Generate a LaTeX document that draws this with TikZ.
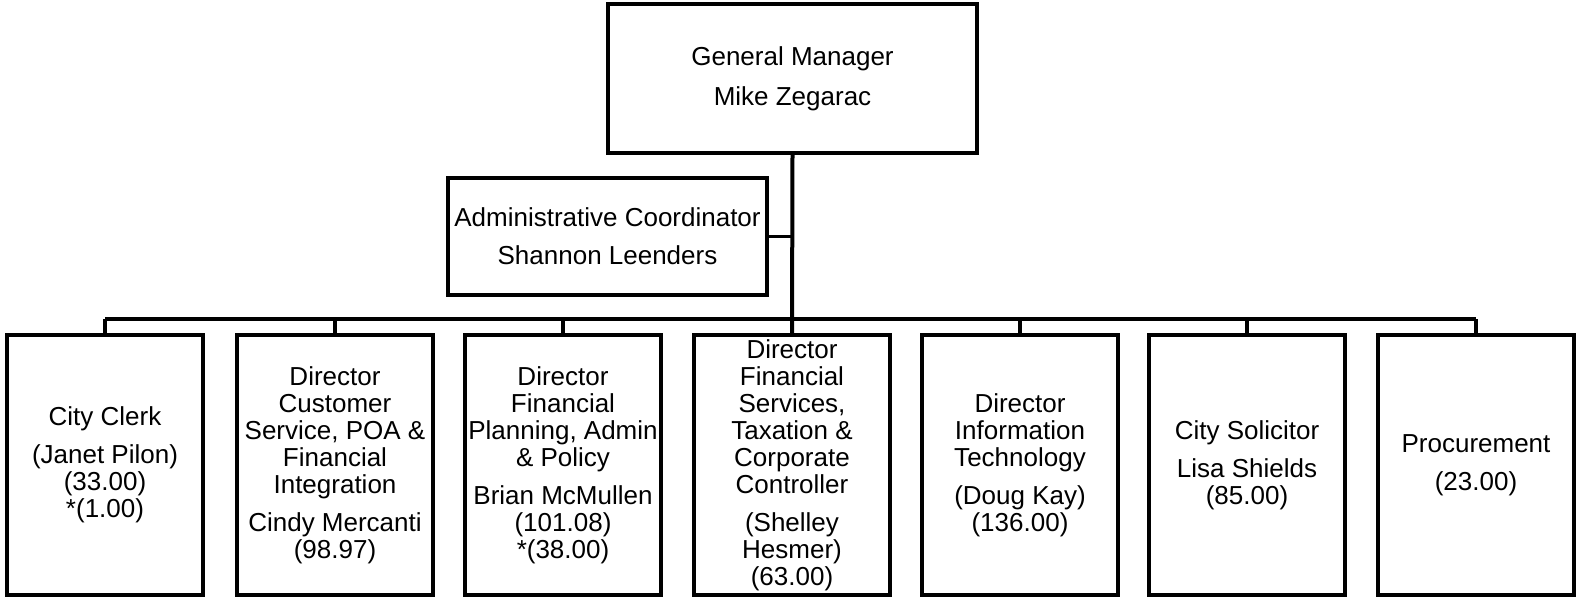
\documentclass[tikz,border=0pt]{standalone}
\usepackage{fontspec}
\setmainfont{Liberation Sans}
\usetikzlibrary{positioning,calc}
\definecolor{boxline}{HTML}{000000}

\begin{document}
\begin{tikzpicture}[x=1pt,y=-1pt,
    unitbox/.style={draw=boxline,line width=3.5pt,align=center,inner sep=0pt,
      font=\fontsize{26}{27}\selectfont},
    deptbox/.style={unitbox,minimum width=196pt,minimum height=260pt},
    orgline/.style={draw=boxline,line width=3.5pt}]
  \useasboundingbox (0,0) rectangle (1577,598);
  % top level
  \node[unitbox,minimum width=369pt,minimum height=149pt] (gm) at (792.5,78.5)
    {General Manager\\[13pt]Mike Zegarac};
  \node[unitbox,minimum width=319pt,minimum height=117pt] (adm) at (607.5,236.5)
    {Administrative Coordinator\\[11pt]Shannon Leenders};
  % departments
  \node[deptbox] (d1) at (105,465)
    {City Clerk\\[11pt](Janet Pilon)\\(33.00)\\*(1.00)};
  \node[deptbox] (d2) at (335,465)
    {Director\\Customer\\Service, POA \&\\Financial\\Integration\\[11pt]Cindy Mercanti\\(98.97)};
  \node[deptbox] (d3) at (563,465)
    {Director\\Financial\\Planning, Admin\\\& Policy\\[11pt]Brian McMullen\\(101.08)\\*(38.00)};
  \node[deptbox] (d4) at (792,465)
    {Director\\Financial\\Services,\\Taxation \&\\Corporate\\Controller\\[11pt](Shelley\\Hesmer)\\(63.00)};
  \node[deptbox] (d5) at (1020,465)
    {Director\\Information\\Technology\\[11pt](Doug Kay)\\(136.00)};
  \node[deptbox] (d6) at (1247,465)
    {City Solicitor\\[11pt]Lisa Shields\\(85.00)};
  \node[deptbox] (d7) at (1476,465)
    {Procurement\\[11pt](23.00)};
  % connectors
  \coordinate (bar) at (0,319);
  \draw[orgline,line width=4pt] (gm.south) -- (d4.north);
  \draw[orgline] (adm.east) -- (adm.east -| gm.south);
  \draw[orgline] (d1.north |- bar) -- (d7.north |- bar);
  \foreach \n in {d1,d2,d3,d5,d6,d7}
    \draw[orgline] (\n.north) -- (\n.north |- bar);
\end{tikzpicture}
\end{document}
